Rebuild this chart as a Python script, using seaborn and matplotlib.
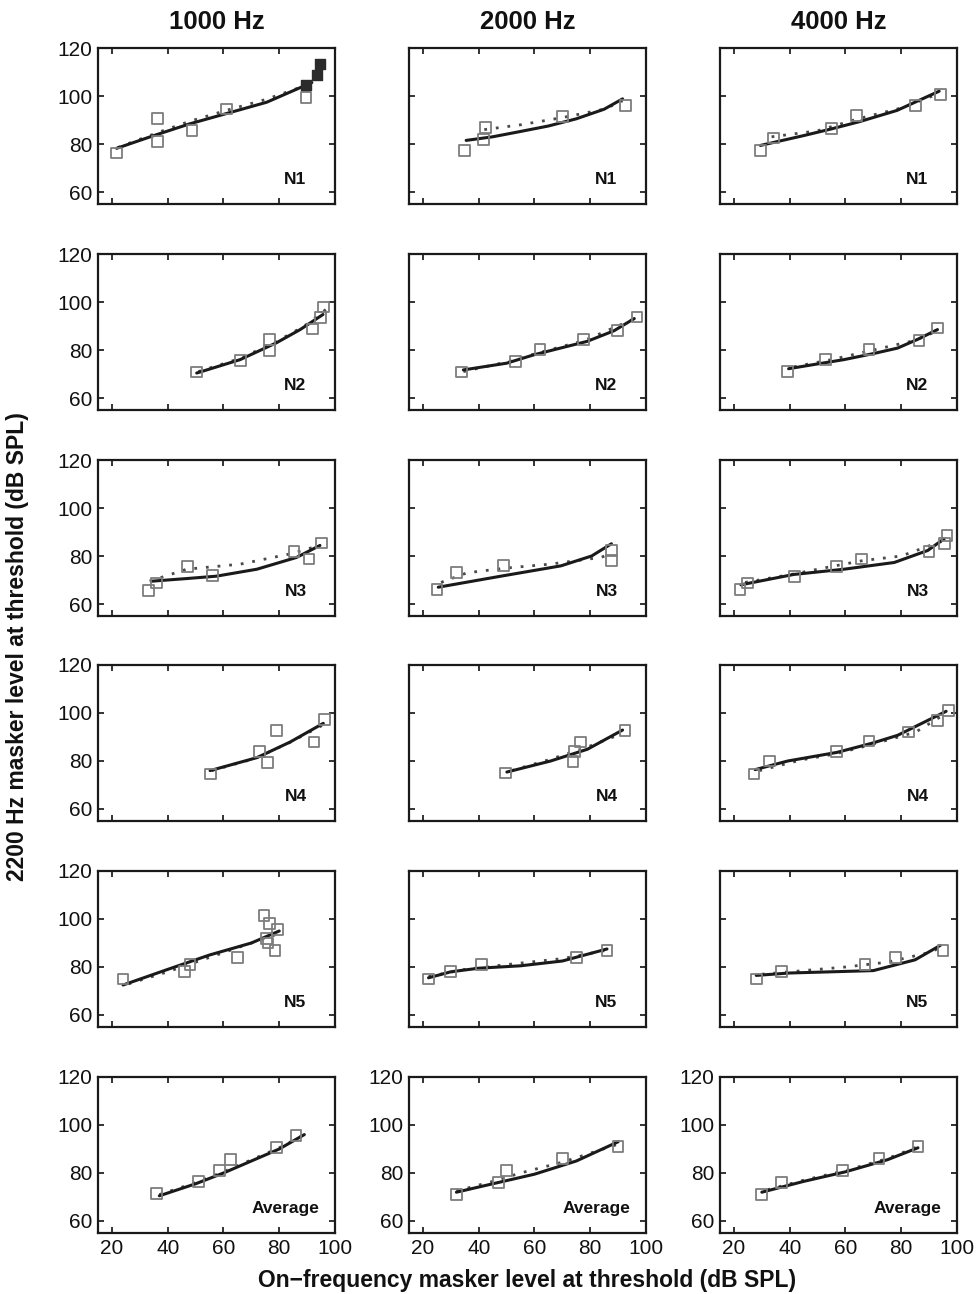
import matplotlib
matplotlib.use("Agg")
import matplotlib.pyplot as plt
import seaborn as sns
import pandas as pd

sns.set_style("ticks")
plt.rcParams['font.family'] = ['Liberation Sans', 'DejaVu Sans']
plt.rcParams['text.color'] = '#111111'

# ---------------- data ----------------
frequencies = ["1000 Hz", "2000 Hz", "4000 Hz"]
listeners = ["N1", "N2", "N3", "N4", "N5", "Average"]
x_ticks = [20, 40, 60, 80, 100]
y_ticks = [60, 80, 100, 120]

# N1
N1_1k_x = [21.6, 36.4, 36.4, 48.7, 61.2, 89.6]
N1_1k_y = [76.3, 90.5, 81.1, 85.6, 94.6, 99.5]
N1_1k_filled_x = [89.6, 93.5, 94.6]
N1_1k_filled_y = [104.4, 108.9, 113.4]
N1_1k_fit_x = [21.7, 35.0, 47.9, 61.1, 75.5, 91.7]
N1_1k_fit_y = [78.2, 83.5, 88.4, 92.7, 97.4, 105.6]
N1_1k_dot_x = [22.0, 37.0, 48.0, 61.0, 75.0, 91.0]
N1_1k_dot_y = [78.5, 85.0, 89.5, 94.0, 98.5, 105.0]

N1_2k_x = [35.0, 42.5, 41.8, 70.0, 92.6]
N1_2k_y = [77.4, 87.0, 82.0, 91.5, 96.0]
N1_2k_fit_x = [35.5, 45.0, 54.0, 65.0, 75.0, 85.0, 91.6]
N1_2k_fit_y = [81.5, 83.0, 85.0, 87.5, 90.5, 94.5, 98.8]
N1_2k_dot_x = [42.0, 55.0, 70.0, 85.0, 91.6]
N1_2k_dot_y = [86.0, 88.0, 91.0, 94.5, 98.0]

N1_4k_x = [29.5, 34.2, 55.0, 64.0, 85.0, 94.0]
N1_4k_y = [77.4, 82.5, 86.6, 92.0, 95.9, 100.7]
N1_4k_fit_x = [29.5, 45.0, 55.0, 65.0, 78.5, 93.6]
N1_4k_fit_y = [79.4, 83.5, 86.3, 89.3, 94.0, 102.0]
N1_4k_dot_x = [33.5, 50.0, 64.5, 80.0, 93.5]
N1_4k_dot_y = [83.0, 85.5, 90.5, 95.0, 101.0]

# N2
N2_1k_x = [50.2, 66.0, 76.6, 76.6, 92.0, 95.8, 94.8]
N2_1k_y = [70.8, 75.5, 84.3, 79.7, 88.8, 97.9, 93.4]
N2_1k_fit_x = [50.4, 66.0, 79.0, 87.5, 95.7]
N2_1k_fit_y = [70.4, 76.0, 83.0, 88.5, 94.8]
N2_1k_dot_x = [51.0, 66.0, 79.0, 89.0, 98.0]
N2_1k_dot_y = [71.0, 76.5, 83.5, 90.0, 98.0]

N2_2k_x = [33.7, 53.2, 62.0, 77.5, 89.8, 96.8]
N2_2k_y = [70.8, 75.2, 80.1, 84.3, 88.1, 93.7]
N2_2k_fit_x = [34.5, 50.0, 59.8, 70.0, 78.9, 88.5, 95.8]
N2_2k_fit_y = [71.7, 74.5, 78.0, 81.0, 83.6, 88.0, 93.1]
N2_2k_dot_x = [34.5, 50.0, 62.0, 78.0, 95.8]
N2_2k_dot_y = [71.0, 75.0, 79.0, 84.0, 93.0]

N2_4k_x = [39.2, 52.8, 68.4, 86.4, 93.0]
N2_4k_y = [71.0, 75.9, 80.1, 83.9, 89.2]
N2_4k_fit_x = [39.6, 50.0, 59.5, 70.0, 78.7, 86.0, 93.0]
N2_4k_fit_y = [72.2, 74.2, 76.0, 78.5, 80.8, 84.5, 88.5]
N2_4k_dot_x = [41.5, 55.0, 70.0, 85.0, 93.0]
N2_4k_dot_y = [73.0, 76.0, 80.0, 84.0, 88.0]

# N3
N3_1k_x = [33.0, 36.0, 47.2, 56.0, 85.3, 90.7, 95.2]
N3_1k_y = [65.5, 68.8, 75.6, 71.9, 82.0, 78.7, 85.4]
N3_1k_fit_x = [34.2, 46.8, 57.5, 72.0, 86.2, 94.6]
N3_1k_fit_y = [69.5, 70.6, 71.6, 74.5, 79.4, 84.4]
N3_1k_dot_x = [33.5, 46.8, 66.0, 84.0, 94.6]
N3_1k_dot_y = [69.5, 74.5, 76.6, 80.9, 84.4]

N3_2k_x = [25.0, 32.0, 48.9, 87.6, 87.6]
N3_2k_y = [66.0, 73.0, 75.9, 82.3, 78.0]
N3_2k_fit_x = [25.5, 48.0, 69.5, 80.5, 87.6]
N3_2k_fit_y = [67.0, 71.6, 75.9, 80.0, 85.1]
N3_2k_dot_x = [26.5, 35.8, 50.0, 65.5, 83.8, 87.6]
N3_2k_dot_y = [69.0, 73.0, 75.0, 76.6, 79.4, 81.0]

N3_4k_x = [22.2, 24.9, 41.6, 56.8, 65.7, 90.0, 95.4, 96.4]
N3_4k_y = [66.0, 68.8, 71.6, 75.5, 78.7, 82.0, 85.1, 88.6]
N3_4k_fit_x = [22.5, 41.4, 59.5, 77.5, 89.5, 95.4]
N3_4k_fit_y = [68.0, 72.3, 74.5, 77.3, 82.3, 87.2]
N3_4k_dot_x = [24.0, 41.4, 54.5, 65.8, 80.0, 95.4]
N3_4k_dot_y = [69.0, 72.5, 75.5, 78.0, 80.0, 86.5]

# N4
N4_1k_x = [55.4, 72.8, 75.7, 79.1, 92.5, 96.2]
N4_1k_y = [74.6, 84.0, 79.3, 92.6, 87.9, 97.2]
N4_1k_fit_x = [55.2, 72.0, 83.9, 95.8]
N4_1k_fit_y = [76.0, 81.4, 87.9, 95.7]
N4_1k_dot_x = [55.8, 71.2, 83.4, 95.7]
N4_1k_dot_y = [76.0, 81.0, 87.5, 95.0]

N4_2k_x = [49.5, 73.8, 74.4, 76.6, 92.5]
N4_2k_y = [75.0, 79.7, 84.0, 87.9, 92.6]
N4_2k_fit_x = [50.1, 65.8, 79.0, 91.6]
N4_2k_fit_y = [75.4, 80.0, 84.9, 92.9]
N4_2k_dot_x = [51.8, 65.1, 78.3, 90.5]
N4_2k_dot_y = [76.0, 80.5, 85.5, 91.0]

N4_4k_x = [27.2, 32.8, 56.8, 68.4, 82.5, 93.0, 96.9]
N4_4k_y = [74.6, 80.0, 83.9, 88.3, 92.1, 96.9, 101.1]
N4_4k_fit_x = [27.6, 39.3, 57.0, 69.8, 78.7, 96.1]
N4_4k_fit_y = [76.4, 80.0, 83.6, 87.5, 90.7, 100.7]
N4_4k_dot_x = [29.1, 44.4, 56.6, 69.8, 85.1, 96.3]
N4_4k_dot_y = [76.0, 80.5, 83.0, 87.0, 92.0, 100.0]

# N5
N5_1k_x = [24.0, 46.0, 48.0, 65.0, 74.5, 76.5, 75.5, 76.0, 78.5, 79.5]
N5_1k_y = [75.0, 78.0, 81.0, 84.0, 101.5, 98.0, 92.0, 90.0, 87.0, 95.5]
N5_1k_fit_x = [24.0, 40.0, 55.0, 70.0, 80.0]
N5_1k_fit_y = [72.5, 79.0, 85.0, 90.0, 95.0]
N5_1k_dot_x = [26.0, 40.0, 55.0, 70.0, 80.0]
N5_1k_dot_y = [73.0, 78.0, 84.0, 90.0, 94.0]

N5_2k_x = [22.0, 30.0, 41.0, 75.0, 86.0]
N5_2k_y = [75.0, 78.0, 81.0, 84.0, 87.0]
N5_2k_fit_x = [22.0, 30.0, 40.0, 55.0, 70.0, 86.0]
N5_2k_fit_y = [75.5, 78.0, 79.5, 80.5, 82.5, 87.5]
N5_2k_dot_x = [22.0, 35.0, 50.0, 70.0, 86.0]
N5_2k_dot_y = [76.0, 79.0, 81.0, 83.5, 87.0]

N5_4k_x = [28.0, 37.0, 67.0, 78.0, 95.0]
N5_4k_y = [75.0, 78.0, 81.0, 84.0, 87.0]
N5_4k_fit_x = [28.0, 40.0, 55.0, 70.0, 85.0, 94.0]
N5_4k_fit_y = [76.5, 77.5, 78.0, 78.5, 83.0, 89.0]
N5_4k_dot_x = [30.0, 45.0, 60.0, 75.0, 90.0, 94.0]
N5_4k_dot_y = [77.0, 78.5, 80.0, 82.0, 86.0, 88.0]

# Average
AVG_1k_x = [36.0, 51.0, 58.6, 62.5, 79.0, 86.0]
AVG_1k_y = [71.4, 76.5, 81.0, 85.5, 90.5, 95.5]
AVG_1k_fit_x = [37.0, 50.0, 60.0, 70.0, 80.0, 89.0]
AVG_1k_fit_y = [70.5, 75.5, 80.0, 85.0, 90.0, 96.0]
AVG_1k_dot_x = [37.0, 50.0, 60.0, 70.0, 80.0, 89.0]
AVG_1k_dot_y = [71.0, 76.0, 80.5, 85.5, 90.5, 96.0]

AVG_2k_x = [32.0, 47.0, 50.0, 70.0, 90.0]
AVG_2k_y = [71.0, 76.0, 81.0, 86.0, 91.0]
AVG_2k_fit_x = [32.0, 45.0, 60.0, 75.0, 90.0]
AVG_2k_fit_y = [72.0, 75.5, 79.5, 85.0, 93.0]
AVG_2k_dot_x = [32.0, 45.0, 55.0, 70.0, 90.0]
AVG_2k_dot_y = [72.5, 76.5, 80.0, 84.5, 92.0]

AVG_4k_x = [30.0, 37.0, 59.0, 72.0, 86.0]
AVG_4k_y = [71.0, 76.0, 81.0, 86.0, 91.0]
AVG_4k_fit_x = [30.0, 45.0, 60.0, 75.0, 86.0]
AVG_4k_fit_y = [72.0, 76.5, 80.5, 85.5, 90.5]
AVG_4k_dot_x = [32.0, 45.0, 60.0, 75.0, 86.0]
AVG_4k_dot_y = [73.0, 77.0, 81.0, 86.0, 91.0]

panels = [
    [(N1_1k_x, N1_1k_y, N1_1k_fit_x, N1_1k_fit_y, N1_1k_dot_x, N1_1k_dot_y),
     (N1_2k_x, N1_2k_y, N1_2k_fit_x, N1_2k_fit_y, N1_2k_dot_x, N1_2k_dot_y),
     (N1_4k_x, N1_4k_y, N1_4k_fit_x, N1_4k_fit_y, N1_4k_dot_x, N1_4k_dot_y)],
    [(N2_1k_x, N2_1k_y, N2_1k_fit_x, N2_1k_fit_y, N2_1k_dot_x, N2_1k_dot_y),
     (N2_2k_x, N2_2k_y, N2_2k_fit_x, N2_2k_fit_y, N2_2k_dot_x, N2_2k_dot_y),
     (N2_4k_x, N2_4k_y, N2_4k_fit_x, N2_4k_fit_y, N2_4k_dot_x, N2_4k_dot_y)],
    [(N3_1k_x, N3_1k_y, N3_1k_fit_x, N3_1k_fit_y, N3_1k_dot_x, N3_1k_dot_y),
     (N3_2k_x, N3_2k_y, N3_2k_fit_x, N3_2k_fit_y, N3_2k_dot_x, N3_2k_dot_y),
     (N3_4k_x, N3_4k_y, N3_4k_fit_x, N3_4k_fit_y, N3_4k_dot_x, N3_4k_dot_y)],
    [(N4_1k_x, N4_1k_y, N4_1k_fit_x, N4_1k_fit_y, N4_1k_dot_x, N4_1k_dot_y),
     (N4_2k_x, N4_2k_y, N4_2k_fit_x, N4_2k_fit_y, N4_2k_dot_x, N4_2k_dot_y),
     (N4_4k_x, N4_4k_y, N4_4k_fit_x, N4_4k_fit_y, N4_4k_dot_x, N4_4k_dot_y)],
    [(N5_1k_x, N5_1k_y, N5_1k_fit_x, N5_1k_fit_y, N5_1k_dot_x, N5_1k_dot_y),
     (N5_2k_x, N5_2k_y, N5_2k_fit_x, N5_2k_fit_y, N5_2k_dot_x, N5_2k_dot_y),
     (N5_4k_x, N5_4k_y, N5_4k_fit_x, N5_4k_fit_y, N5_4k_dot_x, N5_4k_dot_y)],
    [(AVG_1k_x, AVG_1k_y, AVG_1k_fit_x, AVG_1k_fit_y, AVG_1k_dot_x, AVG_1k_dot_y),
     (AVG_2k_x, AVG_2k_y, AVG_2k_fit_x, AVG_2k_fit_y, AVG_2k_dot_x, AVG_2k_dot_y),
     (AVG_4k_x, AVG_4k_y, AVG_4k_fit_x, AVG_4k_fit_y, AVG_4k_dot_x, AVG_4k_dot_y)],
]

# ---------------- layout ----------------
W, H = 979, 1294
fig = plt.figure(figsize=(W / 100, H / 100), dpi=100)
fig.patch.set_facecolor("white")

col_left_px = [98, 409, 720]
row_top_px = [48, 254, 460, 665, 871, 1077]
ax_w_px, ax_h_px = 237, 156

MARKER_EDGE = "#7d7d7d"
for r in range(6):
    for c in range(3):
        px, py, fx, fy, dx, dy = panels[r][c]
        left = col_left_px[c] / W
        bottom = 1 - (row_top_px[r] + ax_h_px) / H
        ax = fig.add_axes([left, bottom, ax_w_px / W, ax_h_px / H])

        sns.lineplot(x=dx, y=dy, ax=ax, color="#4a4a4a", lw=2.0,
                     linestyle=(0, (1.0, 3.2)), sort=False, estimator=None)
        sns.lineplot(x=fx, y=fy, ax=ax, color="#1a1a1a", lw=2.2,
                     sort=False, estimator=None)
        sns.scatterplot(x=px, y=py, ax=ax, marker="s", s=60,
                        facecolor="none", edgecolor=MARKER_EDGE, linewidth=1.3,
                        zorder=3)
        if r == 0 and c == 0:
            sns.scatterplot(x=N1_1k_filled_x, y=N1_1k_filled_y, ax=ax,
                            marker="s", s=60, color="#2b2b2b",
                            edgecolor="#2b2b2b", linewidth=1.0, zorder=4)

        ax.set_xlim(15, 100)
        ax.set_ylim(55, 120)
        ax.set_xticks(x_ticks)
        ax.set_yticks(y_ticks)
        ax.tick_params(direction="in", top=True, right=True, length=4,
                       width=1.2, labelsize=15, colors="#111111", pad=4)
        if r < 5:
            ax.set_xticklabels([])
        if c > 0 and r < 5:
            ax.set_yticklabels([])
        for sp in ax.spines.values():
            sp.set_visible(True)
            sp.set_linewidth(1.6)
            sp.set_color("#1a1a1a")
        ax.set_xlabel("")
        ax.set_ylabel("")
        lab = listeners[r]
        xpos = 0.935 if lab == "Average" else 0.88
        ax.text(xpos, 0.16, lab, transform=ax.transAxes, ha="right",
                va="center", fontsize=12.5, fontweight="bold", color="#111111")

for c, f in enumerate(frequencies):
    cx = (col_left_px[c] + ax_w_px / 2) / W
    fig.text(cx, 1 - 22 / H, f, ha="center", va="center", fontsize=18.5,
             fontweight="bold", color="#111111")

fig.text(18 / W, 0.5, "2200 Hz masker level at threshold (dB SPL)",
         rotation=90, ha="center", va="center", fontsize=16.5,
         fontweight="bold", color="#111111")
fig.text(0.5 * (98 + 956) / W, 1 - 1280 / H,
         "On\u2212frequency masker level at threshold (dB SPL)",
         ha="center", va="center", fontsize=16.5, fontweight="bold",
         color="#111111")

fig.savefig("out.png", dpi=100, facecolor="white")
